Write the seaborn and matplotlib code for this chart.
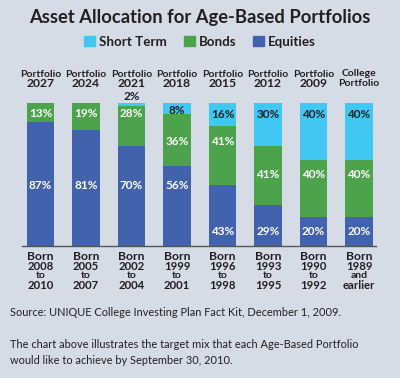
import matplotlib
matplotlib.use("Agg")
import matplotlib.pyplot as plt
import seaborn as sns
import pandas as pd
import numpy as np

# ---- data ----
portfolios = ["2027", "2024", "2021", "2018", "2015", "2012", "2009", "College"]
top_line1 = ["Portfolio"] * 7 + ["College"]
top_line2 = ["2027", "2024", "2021", "2018", "2015", "2012", "2009", "Portfolio"]
born_line2 = ["2008", "2005", "2002", "1999", "1996", "1993", "1990", "1989"]
born_line3 = ["to", "to", "to", "to", "to", "to", "to", "and"]
born_line4 = ["2010", "2007", "2004", "2001", "1998", "1995", "1992", "earlier"]
equities = [87, 81, 70, 56, 43, 29, 20, 20]
bonds = [13, 19, 28, 36, 41, 41, 40, 40]
short_term = [0, 0, 2, 8, 16, 30, 40, 40]

# label vertical placement (layout, in % units)
eq_label_y = [42, 42, 42, 42, 10, 10, 10, 10]
bd_label_y = [93, 93, 93, 73, 73, 50, 50, 50]
st_label_y = [None, None, 104.5, 95, 92, 92, 92, 92]

BG = "#d6dce6"
C_ST = "#40c8f2"
C_BD = "#4ca34b"
C_EQ = "#4262ad"
DARK = "#231f20"

sns.set_theme(style="white")
plt.rcParams["font.family"] = ["Lato", "DejaVu Sans"]

W, H = 400, 378
fig = plt.figure(figsize=(W / 100, H / 100), dpi=100, facecolor=BG)

def px(x0, y0, x1, y1):
    return [x0 / W, 1 - y1 / H, (x1 - x0) / W, (y1 - y0) / H]

ax = fig.add_axes(px(22.3, 103, 376.3, 246))
ax.set_facecolor(BG)

df = pd.DataFrame({"p": portfolios, "eq": equities, "bd": bonds, "st": short_term})
df["bd_bottom"] = df["eq"]
df["st_bottom"] = df["eq"] + df["bd"]

sns.barplot(data=df, x="p", y="eq", color=C_EQ, width=0.6, ax=ax,
            saturation=1, linewidth=0)
sns.barplot(data=df, x="p", y="bd", bottom=df["bd_bottom"], color=C_BD,
            width=0.6, ax=ax, saturation=1, linewidth=0)
sns.barplot(data=df, x="p", y="st", bottom=df["st_bottom"], color=C_ST,
            width=0.6, ax=ax, saturation=1, linewidth=0)

ax.set_xlim(-0.4, 7.38)
ax.set_ylim(0, 100)
for s in ["top", "right", "left"]:
    ax.spines[s].set_visible(False)
ax.spines["bottom"].set_color("#555555")
ax.spines["bottom"].set_linewidth(1.0)
ax.set_xticks([])
ax.set_yticks([])
ax.set_xlabel("")
ax.set_ylabel("")

lbl = dict(ha="center", va="center", fontsize=8.5, fontweight="bold", clip_on=False)
for i in range(len(portfolios)):
    ax.text(i, eq_label_y[i], f"{equities[i]}%", color="white", **lbl)
    ax.text(i, bd_label_y[i], f"{bonds[i]}%", color="white", **lbl)
    if st_label_y[i] is not None:
        ax.text(i, st_label_y[i], f"{short_term[i]}%", color=DARK, **lbl)
    # top labels
    if i < 7:
        ax.text(i, 120, top_line1[i], ha="center", va="center", fontsize=7.5,
                fontweight="bold", color=DARK, clip_on=False)
        ax.text(i, 113.3, top_line2[i], ha="center", va="center", fontsize=8.7,
                fontweight="bold", color=DARK, clip_on=False)
    else:
        ax.text(i, 120.5, top_line1[i], ha="center", va="center", fontsize=7.5,
                fontweight="bold", color=DARK, clip_on=False)
        ax.text(i, 113.8, top_line2[i], ha="center", va="center", fontsize=7.5,
                fontweight="bold", color=DARK, clip_on=False)
    # bottom labels
    ax.text(i, -7.6, "Born", ha="center", va="center", fontsize=8.7,
            fontweight="bold", color=DARK, clip_on=False)
    ax.text(i, -14.5, born_line2[i], ha="center", va="center", fontsize=8.2,
            fontweight="bold", color=DARK, clip_on=False)
    ax.text(i, -20.8, born_line3[i], ha="center", va="center", fontsize=7.5,
            fontweight="bold", color=DARK, clip_on=False)
    ax.text(i, -27.5, born_line4[i], ha="center", va="center", fontsize=8.2,
            fontweight="bold", color=DARK, clip_on=False)

# title
fig.text(0.5, 1 - 18 / H, "Asset Allocation for Age-Based Portfolios",
         ha="center", va="center", fontsize=13.2, fontweight="bold", color=DARK)

# legend
from matplotlib.patches import Patch
handles = [Patch(color=C_ST, label="Short Term"),
           Patch(color=C_BD, label="Bonds"),
           Patch(color=C_EQ, label="Equities")]
leg = fig.legend(handles=handles, loc="center", bbox_to_anchor=(0.5, 1 - 42 / H),
                 ncol=3, frameon=False, handlelength=0.8,
                 handleheight=0.8, handletextpad=0.3, columnspacing=1.3,
                 prop={"weight": "bold", "size": 9.6})
for t in leg.get_texts():
    t.set_color(DARK)

fig.text(10 / W, 1 - 313 / H,
         "Source: UNIQUE College Investing Plan Fact Kit, December 1, 2009.",
         ha="left", va="center", fontsize=7.9, color=DARK)
fig.text(10 / W, 1 - 345 / H,
         "The chart above illustrates the target mix that each Age-Based Portfolio",
         ha="left", va="center", fontsize=7.9, color=DARK)
fig.text(10 / W, 1 - 361 / H,
         "would like to achieve by September 30, 2010.",
         ha="left", va="center", fontsize=7.9, color=DARK)

fig.savefig("out.png", dpi=100, facecolor=BG)
